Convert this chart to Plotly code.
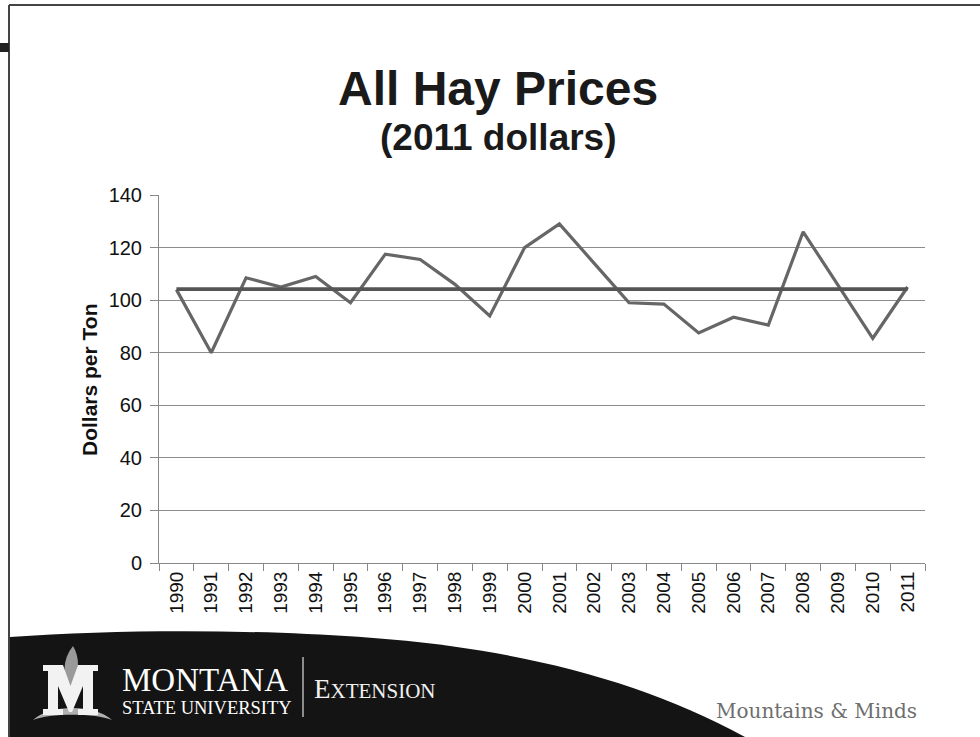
import numpy as np
import plotly.graph_objects as go

# ---- data -------------------------------------------------------------
years = [str(y) for y in range(1990, 2012)]
price = [104, 80, 108.5, 105, 109, 99, 117.5, 115.5, 106, 94, 120,
         129, 114, 99, 98.5, 87.5, 93.5, 90.5, 126, 106, 85.5, 105]
y_ticks = [0, 20, 40, 60, 80, 100, 120, 140]

avg_price = float(np.mean(price))

# ---- page geometry (pixels) ------------------------------------------
W, H = 980, 737
L, R, T, B = 159, 55, 195, 174
PW, PH = W - L - R, H - T - B


def px(x):
    return (x - L) / PW


def py(y):
    return (H - B - y) / PH


def path(points, close=True):
    s = "M " + " L ".join(f"{px(x):.5f},{py(y):.5f}" for x, y in points)
    return s + (" Z" if close else "")


def bez(start, segs):
    """Cubic bezier path in pixel space -> paper space."""
    s = f"M {px(start[0]):.5f},{py(start[1]):.5f}"
    for seg in segs:
        if len(seg) == 3:
            (a, b), (c, d), (e, f) = seg
            s += (f" C {px(a):.5f},{py(b):.5f} {px(c):.5f},{py(d):.5f} "
                  f"{px(e):.5f},{py(f):.5f}")
        else:
            (a, b), = seg
            s += f" L {px(a):.5f},{py(b):.5f}"
    return s + " Z"


fig = go.Figure()

fig.add_trace(go.Scatter(
    x=years, y=price, mode="lines",
    line=dict(color="#666666", width=3.2),
    showlegend=False, hoverinfo="x+y"))

fig.add_trace(go.Scatter(
    x=[years[0], years[-1]], y=[avg_price, avg_price], mode="lines",
    line=dict(color="#555555", width=3.8),
    showlegend=False, hoverinfo="y"))

shapes = []

# page frame and corner tab
shapes.append(dict(type="path", xref="paper", yref="paper",
                   path=path([(9, 5), (980, 5)], close=False),
                   line=dict(color="#444444", width=2)))
shapes.append(dict(type="path", xref="paper", yref="paper",
                   path=path([(9, 5), (9, 737)], close=False),
                   line=dict(color="#444444", width=2)))
shapes.append(dict(type="path", xref="paper", yref="paper",
                   path=path([(0, 43), (9, 43), (9, 52), (0, 52)]),
                   fillcolor="#222222", line=dict(width=0)))

# black footer swoosh
shapes.append(dict(type="path", xref="paper", yref="paper",
                   path=bez((10, 637), [((150, 627), (330, 630), (450, 646)),
                                         ((560, 661), (660, 690), (745, 737)),
                                         ((10, 737),)]),
                   fillcolor="#141414", line=dict(width=0)))

# university mark: base arc, flame, block M
shapes.append(dict(type="path", xref="paper", yref="paper",
                   path=bez((33, 720), [((50, 704), (95, 704), (112, 720)),
                                         ((95, 713), (50, 713), (33, 720))]),
                   fillcolor="#b0b0b0", line=dict(width=0)))
shapes.append(dict(type="path", xref="paper", yref="paper",
                   path=bez((73, 646), [((80, 658), (80, 672), (71, 690)),
                                         ((62, 676), (62, 660), (73, 646))]),
                   fillcolor="#9a9a9a", line=dict(width=0)))
m_pts = [(43, 665), (63, 665), (70.5, 686), (78, 665), (98, 665), (98, 671),
         (93, 671), (93, 709), (98, 709), (98, 715), (78, 715), (78, 709),
         (83, 709), (83, 686), (72, 712), (69, 712), (58, 686), (58, 709),
         (63, 709), (63, 715), (43, 715), (43, 709), (48, 709), (48, 671),
         (43, 671)]
shapes.append(dict(type="path", xref="paper", yref="paper",
                   path=path(m_pts), fillcolor="#f2f2f2", line=dict(width=0)))

# divider between wordmark and unit name
shapes.append(dict(type="path", xref="paper", yref="paper",
                   path=path([(303, 657), (303, 717)], close=False),
                   line=dict(color="#dddddd", width=1.2)))

annotations = [
    dict(text="<b>All Hay Prices</b>", x=px(498), y=py(88),
         font=dict(family="Liberation Sans, Arial", size=48, color="#1a1a1a")),
    dict(text="<b>(2011 dollars)</b>", x=px(498), y=py(138),
         font=dict(family="Liberation Sans, Arial", size=37, color="#1a1a1a")),
    dict(text="<b>Dollars per Ton</b>", x=px(89), y=py(380), textangle=-90,
         font=dict(family="Liberation Sans, Arial", size=21, color="#111111")),
    dict(text="MONTANA", x=px(120), y=py(680), xanchor="left",
         font=dict(family="Liberation Serif, Times New Roman", size=33,
                   color="#ffffff")),
    dict(text="STATE UNIVERSITY", x=px(120), y=py(708), xanchor="left",
         font=dict(family="Liberation Serif, Times New Roman", size=18.5,
                   color="#ffffff")),
    dict(text="E<span style='font-size:21px'>XTENSION</span>",
         x=px(312), y=py(689), xanchor="left",
         font=dict(family="Liberation Serif, Times New Roman", size=27,
                   color="#f0f0f0")),
    dict(text="Mountains &amp; Minds", x=px(714), y=py(711), xanchor="left",
         font=dict(family="DejaVu Serif, Georgia", size=20, color="#6e6e6e")),
]
for a in annotations:
    a.update(xref="paper", yref="paper", showarrow=False)
    a.setdefault("xanchor", "center")
    a.setdefault("yanchor", "middle")

fig.update_layout(
    width=W, height=H,
    margin=dict(l=L, r=R, t=T, b=B, pad=0),
    paper_bgcolor="#ffffff", plot_bgcolor="#ffffff",
    shapes=shapes, annotations=annotations,
    font=dict(family="Liberation Sans, Arial", color="#111111"),
    xaxis=dict(
        type="category", range=[-0.5, len(years) - 0.5],
        tickangle=-90, tickfont=dict(size=19),
        ticks="outside", tickson="boundaries", ticklen=7,
        tickcolor="#888888", tickwidth=1,
        showline=True, linecolor="#888888", linewidth=1,
        showgrid=False, zeroline=False, fixedrange=True),
    yaxis=dict(
        range=[0, 140], tickvals=y_ticks, tickfont=dict(size=20),
        ticks="outside", ticklen=8, tickcolor="#888888", tickwidth=1,
        ticklabelstandoff=4,
        showline=True, linecolor="#888888", linewidth=1,
        showgrid=True, gridcolor="#8c8c8c", gridwidth=1,
        zeroline=False, fixedrange=True),
)

fig.write_html("out.html")
